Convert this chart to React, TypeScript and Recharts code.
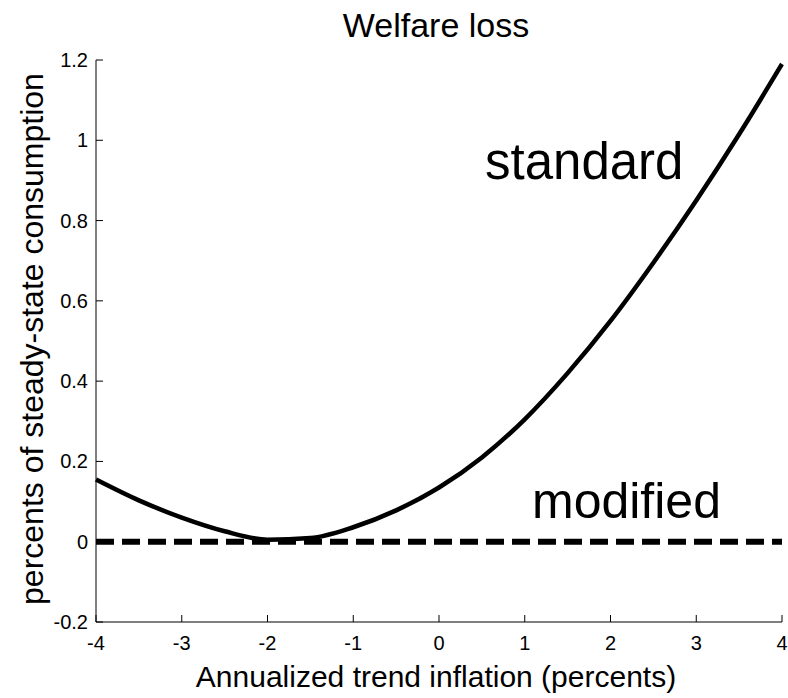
import { LineChart, Line, XAxis, YAxis } from "recharts";

// trend inflation grid (percents)
const inflation = [-4, -3.5, -3, -2.5, -2, -1.5, -1, -0.5, 0, 0.5, 1, 1.5, 2, 2.5, 3, 3.5, 4];
// welfare loss, standard model
const standardLoss = [0.155, 0.103, 0.06, 0.026, 0.005, 0.009, 0.036, 0.078, 0.135, 0.21, 0.305, 0.42, 0.55, 0.695, 0.85, 1.015, 1.19];
// welfare loss, modified model
const modifiedLoss = [0, 0, 0, 0, 0, 0, 0, 0, 0, 0, 0, 0, 0, 0, 0, 0, 0];

const xTicks = [-4, -3, -2, -1, 0, 1, 2, 3, 4];
const yTicks = [-0.2, 0, 0.2, 0.4, 0.6, 0.8, 1, 1.2];

const FONT = "'Liberation Sans', Arial, Helvetica, sans-serif";
const TICK_LEN = 7;

const fmt = (v: number) => String(Math.round(v * 10) / 10);

function BottomTick(props: any) {
  const { x, y, payload } = props;
  return (
    <g>
      <line x1={x} y1={y} x2={x} y2={y - TICK_LEN} stroke="#000" />
      <text x={x} y={y + 28} textAnchor="middle" fontSize={20} fontFamily={FONT} fill="#000">
        {fmt(payload.value)}
      </text>
    </g>
  );
}

function LeftTick(props: any) {
  const { x, y, payload } = props;
  return (
    <g>
      <line x1={x} y1={y} x2={x + TICK_LEN} y2={y} stroke="#000" />
      <text x={x - 8} y={y + 7} textAnchor="end" fontSize={20} fontFamily={FONT} fill="#000">
        {fmt(payload.value)}
      </text>
    </g>
  );
}

function TopTick(props: any) {
  const { x, y } = props;
  return <line x1={x} y1={y} x2={x} y2={y + TICK_LEN} stroke="#000" />;
}

function RightTick(props: any) {
  const { x, y } = props;
  return <line x1={x} y1={y} x2={x - TICK_LEN} y2={y} stroke="#000" />;
}

export default function App() {
  const data = inflation.map((x, i) => ({
    x,
    standard: standardLoss[i],
    modified: modifiedLoss[i],
  }));

  return (
    <div style={{ position: "absolute", left: 0, top: 0, background: "#fff" }}>
      <LineChart
        width={788}
        height={698}
        data={data}
        margin={{ top: 60, right: 6, bottom: 0, left: 0 }}
      >
        <XAxis
          dataKey="x"
          type="number"
          domain={[-4, 4]}
          ticks={xTicks}
          height={76}
          tickSize={0}
          tickMargin={0}
          tickLine={false}
          axisLine={{ stroke: "#000" }}
          tick={<BottomTick />}
          interval={0}
        />
        <XAxis
          xAxisId="top"
          orientation="top"
          type="number"
          domain={[-4, 4]}
          ticks={xTicks}
          height={0}
          tickSize={0}
          tickMargin={0}
          tickLine={false}
          axisLine={{ stroke: "#000" }}
          tick={<TopTick />}
          interval={0}
        />
        <YAxis
          type="number"
          domain={[-0.2, 1.2]}
          ticks={yTicks}
          width={96}
          tickSize={0}
          tickMargin={0}
          tickLine={false}
          axisLine={{ stroke: "#000" }}
          tick={<LeftTick />}
          interval={0}
        />
        <YAxis
          yAxisId="right"
          orientation="right"
          type="number"
          domain={[-0.2, 1.2]}
          ticks={yTicks}
          width={0}
          tickSize={0}
          tickMargin={0}
          tickLine={false}
          axisLine={{ stroke: "#000" }}
          tick={<RightTick />}
          interval={0}
        />
        <Line
          type="monotone"
          dataKey="modified"
          stroke="#000"
          strokeWidth={6}
          strokeDasharray="18 8"
          dot={false}
          isAnimationActive={false}
        />
        <Line
          type="monotone"
          dataKey="standard"
          stroke="#000"
          strokeWidth={4.5}
          dot={false}
          isAnimationActive={false}
        />
        <text x={436} y={37} textAnchor="middle" fontSize={34} fontFamily={FONT} fill="#000">
          Welfare loss
        </text>
        <text x={436} y={687} textAnchor="middle" fontSize={30} fontFamily={FONT} fill="#000">
          Annualized trend inflation (percents)
        </text>
        <text
          x={43}
          y={339}
          textAnchor="middle"
          fontSize={32}
          fontFamily={FONT}
          fill="#000"
          transform="rotate(-90, 43, 339)"
        >
          percents of steady-state consumption
        </text>
        <text x={485} y={179} fontSize={51} fontFamily={FONT} fill="#000">
          standard
        </text>
        <text x={532} y={518} fontSize={50} fontFamily={FONT} fill="#000">
          modified
        </text>
      </LineChart>
    </div>
  );
}
